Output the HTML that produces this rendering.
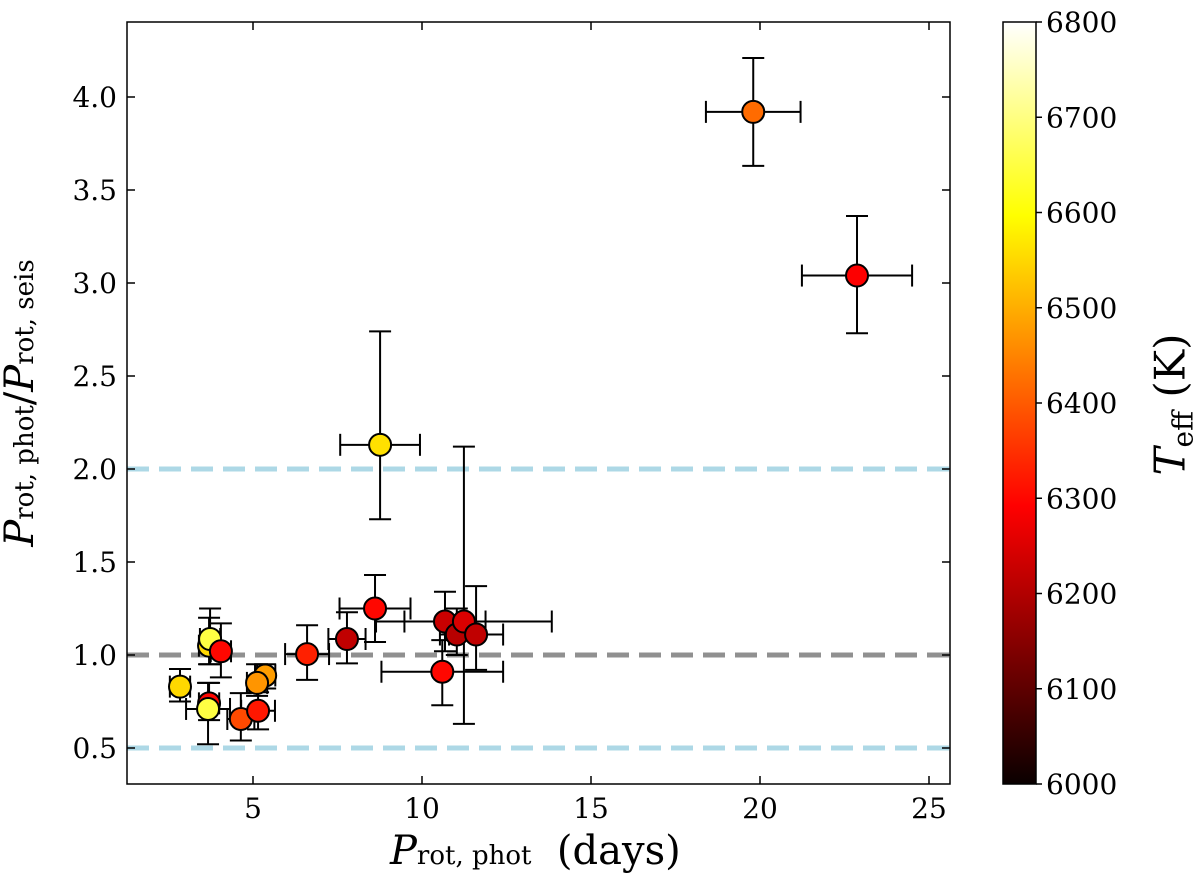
<!DOCTYPE html>
<html><head><meta charset="utf-8"><style>body{margin:0;background:#fff}svg{display:block}text{font-family:"DejaVu Serif","Liberation Serif",serif;fill:#000}</style></head>
<body>
<svg id="chart" width="1200" height="887">
<defs><linearGradient id="hot" x1="0" y1="1" x2="0" y2="0">
<stop offset="0" stop-color="#0a0000"/><stop offset="0.365" stop-color="#ff0000"/><stop offset="0.746" stop-color="#ffff00"/><stop offset="1" stop-color="#ffffff"/></linearGradient></defs>
<g id="plot"></g>
</svg>
<script>
const xVals=[2.84,3.7,3.73,4.05,3.7,3.67,4.64,5.15,5.36,5.12,6.6,7.78,8.61,10.6,10.68,11.03,11.24,11.6,19.8,22.87,8.76];
const yVals=[0.83,1.05,1.086,1.02,0.74,0.71,0.656,0.70,0.89,0.85,1.005,1.086,1.25,0.91,1.18,1.11,1.18,1.11,3.92,3.04,2.13];
const yHi=[0.925,1.2,1.25,1.17,0.85,0.85,0.795,0.8,0.95,0.95,1.16,1.23,1.43,1.08,1.34,1.25,2.12,1.37,4.21,3.36,2.74];
const yLo=[0.75,0.95,0.95,0.88,0.65,0.52,0.54,0.6,0.82,0.78,0.866,0.955,1.07,0.73,1.02,1.0,0.63,0.92,3.63,2.73,1.73];
const xErr=[0.3,0.3,0.3,0.3,0.3,0.65,0.4,0.5,0.3,0.3,0.65,0.55,1.05,1.8,1.2,0.5,2.6,0.8,1.4,1.63,1.18];
const teff=[6550,6550,6650,6300,6300,6650,6380,6320,6480,6470,6330,6220,6300,6300,6230,6210,6250,6220,6420,6290,6560];
const xTicks=[5,10,15,20,25];
const yTicks=[0.5,1.0,1.5,2.0,2.5,3.0,3.5,4.0];
const cTicks=[6000,6100,6200,6300,6400,6500,6600,6700,6800];
const L=127,R=950,T=22,B=784;
const xs=v=>84+v*33.8, ys=v=>841-v*186;
const NS="http://www.w3.org/2000/svg";
const g=document.getElementById('plot');
function mk(t,a,p){const e=document.createElementNS(NS,t);for(const k in a)e.setAttribute(k,a[k]);(p||g).appendChild(e);return e;}
function hot(v){const t=Math.max(0,Math.min(1,(v-6000)/800));const c=x=>Math.round(255*Math.max(0,Math.min(1,x)));return `rgb(${c(t/0.365)},${c((t-0.365)/0.381)},${c((t-0.746)/0.254)})`;}
[[2.0,'#add8e6'],[0.5,'#add8e6'],[1.0,'#909090']].forEach((d,i)=>{const l=mk('line',{x1:L,x2:R,y1:ys(d[0]),y2:ys(d[0]),stroke:d[1],'stroke-width':5,'stroke-dasharray':'22,10'});

});
for(let i=0;i<xVals.length;i++){
const eg=mk('g',{stroke:'#000','stroke-width':2});


const x=xs(xVals[i]),y=ys(yVals[i]),x1=xs(xVals[i]-xErr[i]),x2=xs(xVals[i]+xErr[i]),y1=ys(yHi[i]),y2=ys(yLo[i]);
mk('line',{x1:x,x2:x,y1:y1,y2:y2},eg);mk('line',{x1:x1,x2:x2,y1:y,y2:y},eg);
mk('line',{x1:x-11,x2:x+11,y1:y1,y2:y1},eg);mk('line',{x1:x-11,x2:x+11,y1:y2,y2:y2},eg);
mk('line',{x1:x1,x2:x1,y1:y-11,y2:y+11},eg);mk('line',{x1:x2,x2:x2,y1:y-11,y2:y+11},eg);}
for(let i=0;i<xVals.length;i++){
const c=mk('circle',{cx:xs(xVals[i]),cy:ys(yVals[i]),r:11,fill:hot(teff[i]),stroke:'#000','stroke-width':2});

}
const fr=mk('rect',{x:L,y:T,width:R-L,height:B-T,fill:'none',stroke:'#000','stroke-width':1.5});


xTicks.forEach(v=>{const x=xs(v);mk('line',{x1:x,x2:x,y1:B,y2:B-8,stroke:'#000','stroke-width':1.5});mk('line',{x1:x,x2:x,y1:T,y2:T+8,stroke:'#000','stroke-width':1.5});
const t=mk('text',{x:x,y:B+34,'font-size':28,'text-anchor':'middle'});t.textContent=v;

});
yTicks.forEach(v=>{const y=ys(v);mk('line',{x1:L,x2:L+8,y1:y,y2:y,stroke:'#000','stroke-width':1.5});mk('line',{x1:R,x2:R-8,y1:y,y2:y,stroke:'#000','stroke-width':1.5});
const t=mk('text',{x:L-10,y:y+10,'font-size':28,'text-anchor':'end'});t.textContent=v.toFixed(1);

});
const cb=mk('rect',{x:1003,y:T,width:33,height:B-T,fill:'url(#hot)',stroke:'#000','stroke-width':1.5});


cTicks.forEach(v=>{const y=B-(v-6000)/800*(B-T);mk('line',{x1:1036,x2:1042,y1:y,y2:y,stroke:'#000','stroke-width':1.5});
const t=mk('text',{x:1046,y:y+10,'font-size':28});t.textContent=v;

});
</script>
<div style="position:absolute;left:0;top:0;width:1200px;height:887px;pointer-events:none">
<div style="position:absolute;left:390px;top:828px;font:40px 'DejaVu Serif',serif;white-space:nowrap"><i>P</i><span style="font-size:26px">rot, phot</span>&nbsp;&nbsp;(days)</div>
<div style="position:absolute;left:-180px;top:380px;width:400px;text-align:center;transform:rotate(-90deg);font:40px 'DejaVu Serif',serif;white-space:nowrap"><i>P</i><span style="font-size:26px">rot, phot</span>/<i>P</i><span style="font-size:26px">rot, seis</span></div>
<div style="position:absolute;left:1060px;top:380px;width:220px;text-align:center;transform:rotate(-90deg);font:42px 'DejaVu Serif',serif;white-space:nowrap"><i>T</i><span style="font-size:28px;position:relative;top:8px">eff</span> (K)</div>
</div>
</body></html>
